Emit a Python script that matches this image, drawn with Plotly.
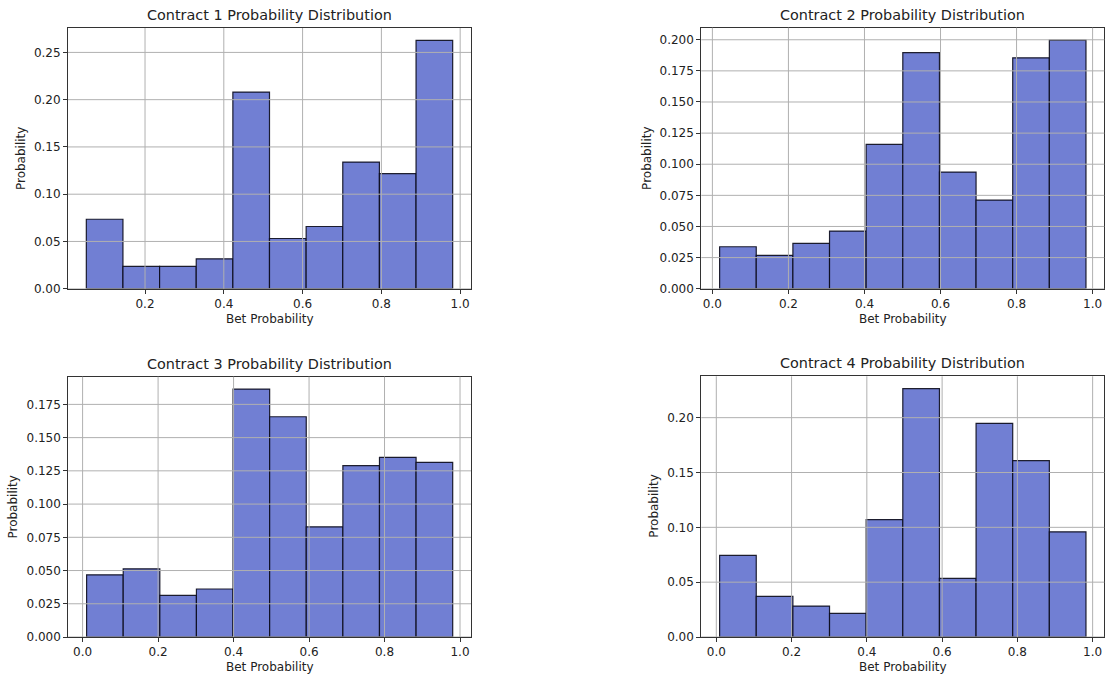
import numpy as np
import plotly.graph_objects as go

# ---- data ----
titles = ["Contract 1 Probability Distribution", "Contract 2 Probability Distribution",
          "Contract 3 Probability Distribution", "Contract 4 Probability Distribution"]
bin_lo = [0.051, 0.019, 0.0106, 0.0088]
bin_hi = [0.981, 0.9826, 0.9806, 0.9823]
c1 = [0.0735, 0.0236, 0.0236, 0.0316, 0.2080, 0.0531, 0.0658, 0.1340, 0.1217, 0.2627]
c2 = [0.0337, 0.0268, 0.0364, 0.0463, 0.1159, 0.1896, 0.0937, 0.0712, 0.1855, 0.1997]
c3 = [0.0468, 0.0513, 0.0313, 0.0361, 0.1865, 0.1657, 0.0829, 0.1289, 0.1352, 0.1314]
c4 = [0.0744, 0.0370, 0.0282, 0.0215, 0.1071, 0.2264, 0.0534, 0.1948, 0.1608, 0.0959]
series = [c1, c2, c3, c4]
x_ticks = [[0.2, 0.4, 0.6, 0.8, 1.0], [0.0, 0.2, 0.4, 0.6, 0.8, 1.0],
           [0.0, 0.2, 0.4, 0.6, 0.8, 1.0], [0.0, 0.2, 0.4, 0.6, 0.8, 1.0]]
y_ticks = [[0.00, 0.05, 0.10, 0.15, 0.20, 0.25],
           [0.000, 0.025, 0.050, 0.075, 0.100, 0.125, 0.150, 0.175, 0.200],
           [0.000, 0.025, 0.050, 0.075, 0.100, 0.125, 0.150, 0.175],
           [0.00, 0.05, 0.10, 0.15, 0.20]]
y_fmt = [".2f", ".3f", ".3f", ".2f"]

W, H = 1106, 676
# axes boxes in pixels (left, right, top, bottom)
boxes = [(68, 471, 28, 288.7), (701.3, 1104.3, 27.7, 288.7),
         (68.3, 471, 376.7, 637), (701.3, 1104.3, 376.3, 637)]
ylab_x = [21.7, 646.7, 12.7, 654]

FONT = "DejaVu Sans"
BAR = "#717fd3"
GRID = "#b0b0b0"
TXT = "#222"

fig = go.Figure()
layout = dict(autosize=True, margin=dict(l=0, r=0, t=0, b=0, autoexpand=False),
              paper_bgcolor="white", plot_bgcolor="white", showlegend=False,
              font=dict(family=FONT, size=12, color=TXT))
shapes, annotations = [], []

for i in range(4):
    n = len(series[i])
    edges = np.linspace(bin_lo[i], bin_hi[i], n + 1)
    centers = (edges[:-1] + edges[1:]) / 2
    width = edges[1] - edges[0]
    xa = "x" if i == 0 else f"x{i+1}"
    ya = "y" if i == 0 else f"y{i+1}"
    fig.add_trace(go.Bar(x=centers, y=series[i], width=width, xaxis=xa, yaxis=ya,
                         marker=dict(color=BAR, line=dict(color="rgba(10,10,25,0.9)", width=1.2)),
                         hoverinfo="x+y"))
    l, r, t, b = boxes[i]
    span = bin_hi[i] - bin_lo[i]
    common = dict(showline=True, mirror=True, linecolor="#333", linewidth=1,
                  ticks="outside", ticklen=4, tickcolor="#333", showgrid=False,
                  zeroline=False, tickfont=dict(family=FONT, size=12, color=TXT))
    layout["xaxis" if i == 0 else f"xaxis{i+1}"] = dict(
        domain=[l / W, r / W], anchor=ya,
        range=[bin_lo[i] - 0.05 * span, bin_hi[i] + 0.05 * span],
        tickvals=x_ticks[i], tickformat=".1f", **common)
    layout["yaxis" if i == 0 else f"yaxis{i+1}"] = dict(
        domain=[1 - b / H, 1 - t / H], anchor=xa,
        range=[0, max(series[i]) * 1.05],
        tickvals=y_ticks[i], tickformat=y_fmt[i], **common)
    # grid lines drawn above bars, like matplotlib
    for v in x_ticks[i]:
        shapes.append(dict(type="line", xref=xa, yref=f"{ya} domain", x0=v, x1=v, y0=0, y1=1,
                           line=dict(color=GRID, width=1), layer="above"))
    for v in y_ticks[i]:
        shapes.append(dict(type="line", xref=f"{xa} domain", yref=ya, x0=0, x1=1, y0=v, y1=v,
                           line=dict(color=GRID, width=1), layer="above"))
    # titles and axis labels
    annotations.append(dict(text=titles[i], xref="paper", yref="paper",
                            x=(l + r) / 2 / W, y=1 - t / H, xanchor="center", yanchor="bottom",
                            yshift=3, showarrow=False, font=dict(family=FONT, size=14.4, color=TXT)))
    annotations.append(dict(text="Bet Probability", xref="paper", yref="paper",
                            x=(l + r) / 2 / W, y=1 - b / H, xanchor="center", yanchor="top",
                            yshift=-21, showarrow=False, font=dict(family=FONT, size=12, color=TXT)))
    annotations.append(dict(text="Probability", xref="paper", yref="paper",
                            x=ylab_x[i] / W, y=1 - (t + b) / 2 / H, xanchor="center", yanchor="middle",
                            textangle=-90, showarrow=False, font=dict(family=FONT, size=12, color=TXT)))

layout["shapes"] = shapes
layout["annotations"] = annotations
fig.update_layout(**layout)
post = ("document.documentElement.style.margin='0';"
        "document.documentElement.style.overflow='hidden';"
        "document.body.style.margin='0';"
        "document.body.style.overflow='hidden';"
        "Plotly.Plots.resize(document.getElementById('{plot_id}'));")
fig.write_html("out.html", post_script=post, default_width="100vw", default_height="100vh",
               config={"displayModeBar": False, "responsive": True})
